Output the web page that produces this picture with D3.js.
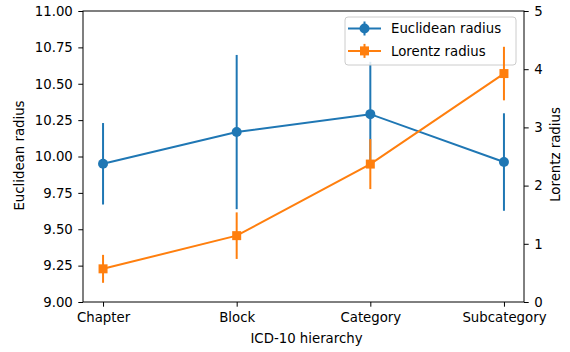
<!DOCTYPE html>
<html>
<head>
<meta charset="utf-8">
<script src="https://cdn.jsdelivr.net/npm/d3@7"></script>
<style>
  body { margin: 0; background: #fff; }
  text { font-family: "DejaVu Sans", sans-serif; fill: #000; }
</style>
</head>
<body>
<div id="chart"></div>
<script>
// data
var levels = ["Chapter", "Block", "Category", "Subcategory"];
var euclidMean = [9.95, 10.168, 10.291, 9.962];
var euclidErr  = [0.28, 0.53, 0.36, 0.335];
var lorentzMean = [0.57, 1.14, 2.37, 3.925];
var lorentzErr  = [0.24, 0.40, 0.43, 0.46];
var leftTicks = [9.00, 9.25, 9.50, 9.75, 10.00, 10.25, 10.50, 10.75, 11.00];
var rightTicks = [0, 1, 2, 3, 4, 5];

var blue = "#1f77b4", orange = "#ff7f0e";

// dimensions and margins
var margin = {top: 11, right: 46, bottom: 50, left: 83},
    width = 570 - margin.left - margin.right,
    height = 352 - margin.top - margin.bottom;

var svg = d3.select("#chart")
    .append("svg")
    .attr("width", 570)
    .attr("height", 352)
    .append("g")
    .attr("transform", "translate(" + margin.left + "," + margin.top + ")");

// x: categorical positions with 5% margin like matplotlib
var x = d3.scaleLinear().domain([-0.15, 3.15]).range([0, width]);
var yL = d3.scaleLinear().domain([9, 11]).range([height, 0]);
var yR = d3.scaleLinear().domain([0, 5]).range([height, 0]);

var fontSize = "13.3px";

// axes
var xAxis = svg.append("g")
    .attr("transform", "translate(0," + height + ")")
    .call(d3.axisBottom(x).tickValues([0, 1, 2, 3])
        .tickFormat(function (d) { return levels[d]; })
        .tickSizeOuter(0).tickSize(4.7).tickPadding(5.5));

var leftAxis = svg.append("g")
    .call(d3.axisLeft(yL).tickValues(leftTicks).tickFormat(d3.format(".2f"))
        .tickSizeOuter(0).tickSize(4.7).tickPadding(5.5));

var rightAxis = svg.append("g")
    .attr("transform", "translate(" + width + ",0)")
    .call(d3.axisRight(yR).tickValues(rightTicks).tickFormat(d3.format("d"))
        .tickSizeOuter(0).tickSize(4.7).tickPadding(5.5));

[xAxis, leftAxis, rightAxis].forEach(function (a) {
    a.selectAll("text").style("font-size", fontSize).style("font-family", "DejaVu Sans");
    a.selectAll("line").attr("stroke", "#000").attr("stroke-width", 1);
    a.select(".domain").remove();
});

// spines
svg.append("rect")
    .attr("x", 0).attr("y", 0)
    .attr("width", width).attr("height", height)
    .attr("fill", "none").attr("stroke", "#000").attr("stroke-width", 1);

// axis labels
svg.append("text")
    .attr("x", width / 2 + 3).attr("y", height + 40.5)
    .attr("text-anchor", "middle")
    .style("font-size", fontSize)
    .text("ICD-10 hierarchy");

svg.append("text")
    .attr("transform", "rotate(-90)")
    .attr("x", -height / 2 + 1).attr("y", -59)
    .attr("text-anchor", "middle")
    .style("font-size", fontSize)
    .text("Euclidean radius");

svg.append("text")
    .attr("transform", "rotate(-90)")
    .attr("x", -height / 2 + 2).attr("y", width + 36)
    .attr("text-anchor", "middle")
    .style("font-size", fontSize)
    .text("Lorentz radius");

// one series with error bars
function drawSeries(means, errs, y, color, marker) {
    var pts = means.map(function (m, i) { return {i: i, m: m, e: errs[i]}; });
    var g = svg.append("g");
    g.append("path")
        .datum(pts)
        .attr("d", d3.line()
            .x(function (d) { return x(d.i); })
            .y(function (d) { return y(d.m); }))
        .attr("fill", "none")
        .attr("stroke", color)
        .attr("stroke-width", 2);
    g.selectAll(".err")
        .data(pts)
        .enter()
        .append("line")
        .attr("x1", function (d) { return x(d.i); })
        .attr("x2", function (d) { return x(d.i); })
        .attr("y1", function (d) { return y(d.m - d.e); })
        .attr("y2", function (d) { return y(d.m + d.e); })
        .attr("stroke", color)
        .attr("stroke-width", 2);
    g.selectAll(".mk")
        .data(pts)
        .enter()
        .append("path")
        .attr("transform", function (d) { return "translate(" + x(d.i) + "," + y(d.m) + ")"; })
        .attr("d", marker === "circle"
            ? d3.symbol().type(d3.symbolCircle).size(Math.PI * 5 * 5)()
            : d3.symbol().type(d3.symbolSquare).size(9 * 9)())
        .attr("fill", color);
}

// blue series on the first axis, its legend, then the twin axis on top
drawSeries(euclidMean, euclidErr, yL, blue, "circle");

// legend
var legend = svg.append("g").attr("transform", "translate(" + (345 - margin.left) + "," + (17 - margin.top) + ")");
legend.append("rect")
    .attr("width", 171).attr("height", 48)
    .attr("rx", 3)
    .attr("fill", "#fff").attr("fill-opacity", 0.85)
    .attr("stroke", "#ccc").attr("stroke-width", 1);

var legendItems = [
    {name: "Euclidean radius", color: blue, marker: "circle"},
    {name: "Lorentz radius", color: orange, marker: "square"}
];
legendItems.forEach(function (it, k) {
    var ly = 11.5 + k * 22.4;
    var row = legend.append("g").attr("transform", "translate(0," + ly + ")");
    row.append("line")
        .attr("x1", 3).attr("x2", 36)
        .attr("stroke", it.color).attr("stroke-width", 2);
    row.append("line")
        .attr("x1", 19.5).attr("x2", 19.5).attr("y1", -7).attr("y2", 7)
        .attr("stroke", it.color).attr("stroke-width", 2);
    row.append("path")
        .attr("transform", "translate(19.5,0)")
        .attr("d", it.marker === "circle"
            ? d3.symbol().type(d3.symbolCircle).size(Math.PI * 25)()
            : d3.symbol().type(d3.symbolSquare).size(81)())
        .attr("fill", it.color);
    row.append("text")
        .attr("x", 46).attr("y", 0).attr("dy", "0.35em")
        .style("font-size", fontSize)
        .text(it.name);
});

drawSeries(lorentzMean, lorentzErr, yR, orange, "square");
</script>
</body>
</html>
